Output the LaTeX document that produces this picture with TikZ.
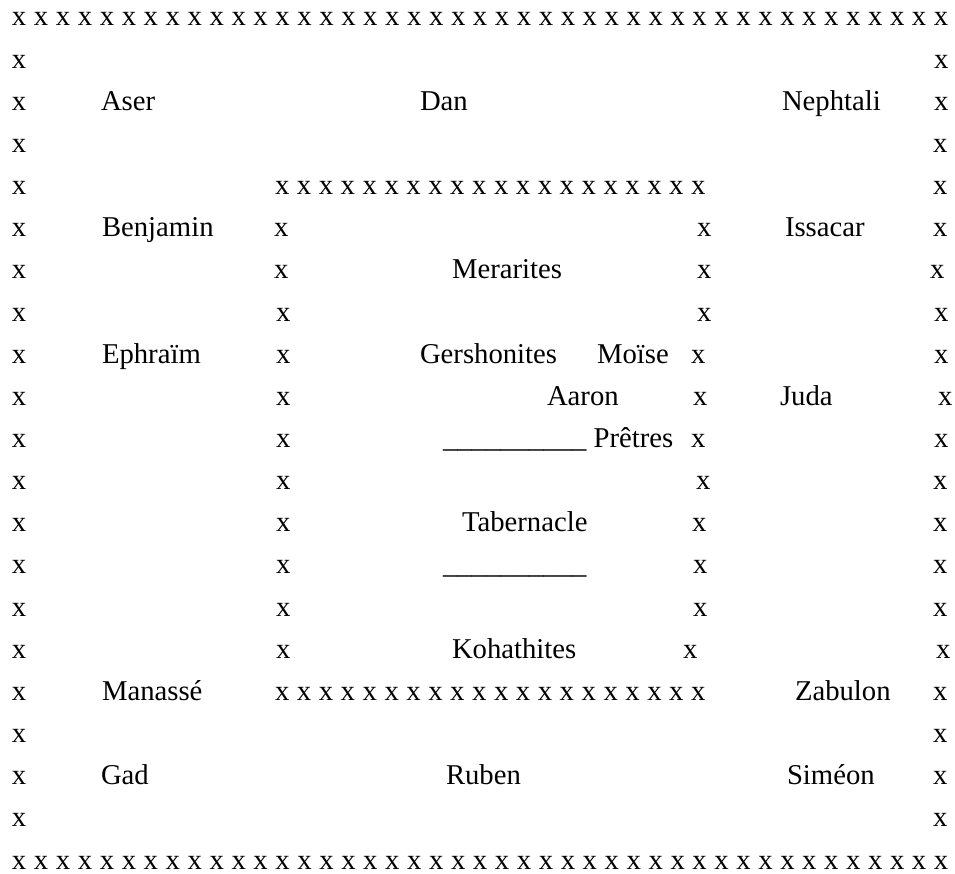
\documentclass[tikz,border=0pt]{standalone}
\usepackage{fontspec}
\setmainfont{Liberation Serif}
\begin{document}
\begin{tikzpicture}[x=1pt,y=-1pt,
  txt/.style={anchor=base west, inner sep=0pt, outer sep=0pt, font=\fontsize{28.7pt}{34pt}\selectfont}]
\useasboundingbox (0,0) rectangle (955,874);
% outer frame: top and bottom rows
\foreach \i in {0,...,42} {
  \node[txt] (top\i) at ({12+21.95*\i},26) {x};
  \node[txt] (bot\i) at ({12+21.95*\i},869) {x};
}
% outer left column
\foreach \r in {2,...,20}
  \node[txt] (L\r) at (12,{26+42.15*(\r-1)}) {x};
% outer right column
\foreach \r/\c in {2/941,3/941,4/940,5/940,6/940,7/937,8/941,9/941,10/945,11/941,12/940,13/940,14/940,15/940,16/943,17/940,18/940,19/940,20/940}
  \node[txt] (R\r) at ({\c-7},{26+42.15*(\r-1)}) {x};
% inner frame: top and bottom rows
\foreach \i in {0,...,19} {
  \node[txt] (itop\i) at ({275+21.9*\i},{26+42.15*4}) {x};
  \node[txt] (ibot\i) at ({275+21.9*\i},{26+42.15*16}) {x};
}
% inner left column
\foreach \r/\c in {6/281,7/281,8/283,9/283,10/283,11/283,12/283,13/283,14/283,15/283,16/283}
  \node[txt] (IL\r) at ({\c-7},{26+42.15*(\r-1)}) {x};
% inner right column
\foreach \r/\c in {6/704,7/704,8/704,9/698,10/700,11/698,12/703,13/699,14/700,15/700,16/690}
  \node[txt] (IR\r) at ({\c-7},{26+42.15*(\r-1)}) {x};
% labels
\node[txt] (aser) at (101,{26+42.15*2}) {Aser};
\node[txt] (dan) at (420,{26+42.15*2}) {Dan};
\node[txt] (nephtali) at (782,{26+42.15*2}) {Nephtali};
\node[txt] (benjamin) at (102,{26+42.15*5}) {Benjamin};
\node[txt] (issacar) at (785,{26+42.15*5}) {Issacar};
\node[txt] (merarites) at (452,{26+42.15*6}) {Merarites};
\node[txt] (ephraim) at (102,{26+42.15*8}) {Ephraïm};
\node[txt] (gershonites) at (420,{26+42.15*8}) {Gershonites};
\node[txt] (moise) at (597,{26+42.15*8}) {Moïse};
\node[txt] (aaron) at (547,{26+42.15*9}) {Aaron};
\node[txt] (juda) at (780,{26+42.15*9}) {Juda};
\node[txt] (pretres) at (443,{26+42.15*10}) {\_\_\_\_\_\_\_\_\_\_ Prêtres};
\node[txt] (tabernacle) at (462,{26+42.15*12}) {Tabernacle};
\node[txt] (ligne) at (443,{26+42.15*13}) {\_\_\_\_\_\_\_\_\_\_};
\node[txt] (kohathites) at (452,{26+42.15*15}) {Kohathites};
\node[txt] (manasse) at (102,{26+42.15*16}) {Manassé};
\node[txt] (zabulon) at (795,{26+42.15*16}) {Zabulon};
\node[txt] (gad) at (101,{26+42.15*18}) {Gad};
\node[txt] (ruben) at (446,{26+42.15*18}) {Ruben};
\node[txt] (simeon) at (787,{26+42.15*18}) {Siméon};
\end{tikzpicture}
\end{document}
